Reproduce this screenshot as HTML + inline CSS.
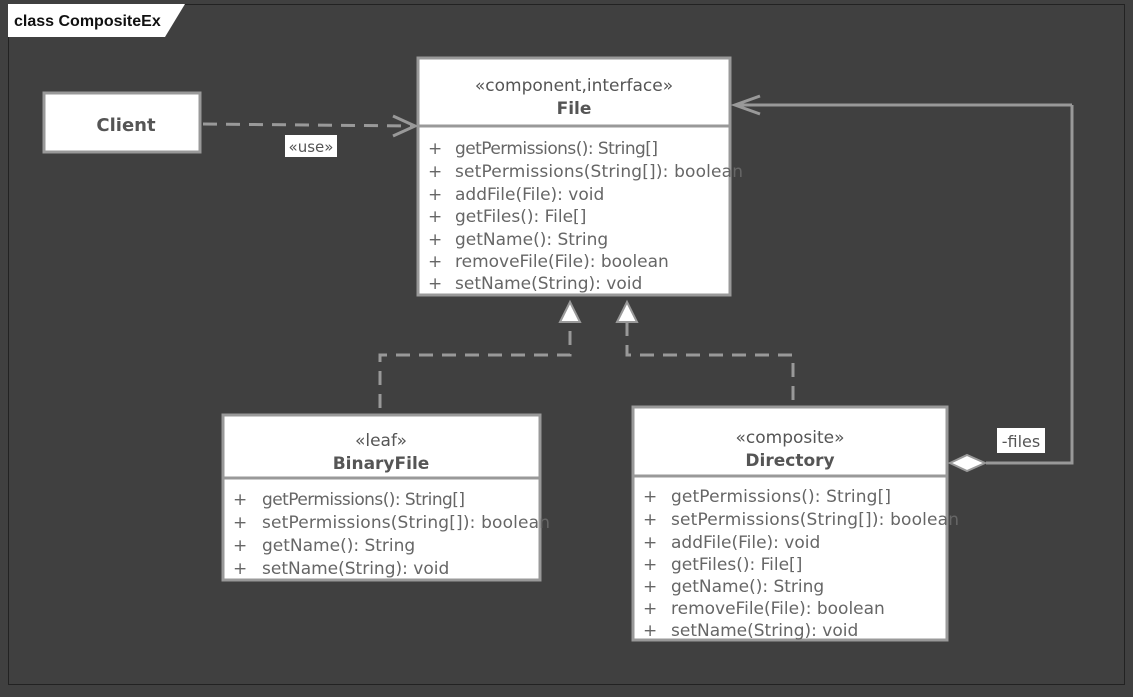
<!DOCTYPE html>
<html><head><meta charset="utf-8"><style>
body{margin:0;background:#404040;}
svg{display:block;font-family:"DejaVu Sans","Liberation Sans",sans-serif;}
</style></head><body>
<svg width="1133" height="697" viewBox="0 0 1133 697">
<rect width="1133" height="697" fill="#404040"/>
<rect x="8.5" y="4.5" width="1116" height="680" fill="none" stroke="#222" stroke-width="1"/>
<polygon points="8,4 185,4 165,37 8,37" fill="#fff"/>
<text x="14" y="26" font-size="16" font-weight="bold" fill="#111" font-family="Liberation Sans, sans-serif">class CompositeEx</text>

<g stroke="#999" stroke-width="3" fill="none">
<path d="M203,124 L413,126" stroke-dasharray="14,9"/>
<path d="M393,116 L415,126 L393,136"/>
<path d="M1072,105 L737,105"/>
<path d="M760,96 L735,105 L760,114"/>
<path d="M1072,105 L1072,463 L986,463"/>
<path d="M380,408 L380,355 L570,355 L570,320" stroke-dasharray="14,9"/>
<path d="M793,400 L793,355 L627,355 L627,320" stroke-dasharray="14,9"/>
</g>
<polygon points="560,322 570,302 580,322" fill="#fff" stroke="#999" stroke-width="2"/>
<polygon points="617,322 627,302 637,322" fill="#fff" stroke="#999" stroke-width="2"/>
<polygon points="950,463 967,455 985,463 967,471" fill="#fff" stroke="#999" stroke-width="2"/>

<rect x="285" y="135" width="52" height="22" fill="#fff"/>
<text x="311" y="152" font-size="15" fill="#555" text-anchor="middle">«use»</text>
<rect x="997" y="428" width="48" height="25" fill="#fff"/>
<text x="1021" y="447" font-size="16" fill="#555" text-anchor="middle">-files</text>

<g stroke="#999" stroke-width="3" fill="#fff">
<rect x="44" y="93" width="156" height="59"/>
<rect x="418" y="58" width="312" height="237"/>
<rect x="223" y="415" width="317" height="165"/>
<rect x="633" y="407" width="314" height="233"/>
<path d="M418,126 L730,126 M223,478 L540,478 M633,476 L947,476" fill="none"/>
</g>
<text x="126" y="131" font-size="18" font-weight="bold" fill="#555" text-anchor="middle">Client</text>

<g fill="#555" font-size="17" text-anchor="middle">
<text x="574" y="91">«component,interface»</text>
<text x="574" y="114" font-weight="bold">File</text>
<text x="381" y="446">«leaf»</text>
<text x="381" y="469" font-weight="bold">BinaryFile</text>
<text x="790" y="443">«composite»</text>
<text x="790" y="466" font-weight="bold">Directory</text>
</g>
<g fill="#666" font-size="17">
<text x="428" y="154">+</text><text x="455" y="154" textLength="203">getPermissions(): String[]</text>
<text x="428" y="177">+</text><text x="455" y="177" textLength="288">setPermissions(String[]): boolean</text>
<text x="428" y="200">+</text><text x="455" y="200">addFile(File): void</text>
<text x="428" y="222">+</text><text x="455" y="222">getFiles(): File[]</text>
<text x="428" y="245">+</text><text x="455" y="245">getName(): String</text>
<text x="428" y="267">+</text><text x="455" y="267">removeFile(File): boolean</text>
<text x="428" y="289">+</text><text x="455" y="289">setName(String): void</text>

<text x="233" y="505">+</text><text x="262" y="505" textLength="203">getPermissions(): String[]</text>
<text x="233" y="528">+</text><text x="262" y="528" textLength="288">setPermissions(String[]): boolean</text>
<text x="233" y="551">+</text><text x="262" y="551">getName(): String</text>
<text x="233" y="574">+</text><text x="262" y="574">setName(String): void</text>

<text x="643" y="502">+</text><text x="671" y="502" textLength="220">getPermissions(): String[]</text>
<text x="643" y="525">+</text><text x="671" y="525" textLength="288">setPermissions(String[]): boolean</text>
<text x="643" y="548">+</text><text x="671" y="548">addFile(File): void</text>
<text x="643" y="570">+</text><text x="671" y="570">getFiles(): File[]</text>
<text x="643" y="592">+</text><text x="671" y="592">getName(): String</text>
<text x="643" y="614">+</text><text x="671" y="614">removeFile(File): boolean</text>
<text x="643" y="636">+</text><text x="671" y="636">setName(String): void</text>
</g>
</svg>
</body></html>
